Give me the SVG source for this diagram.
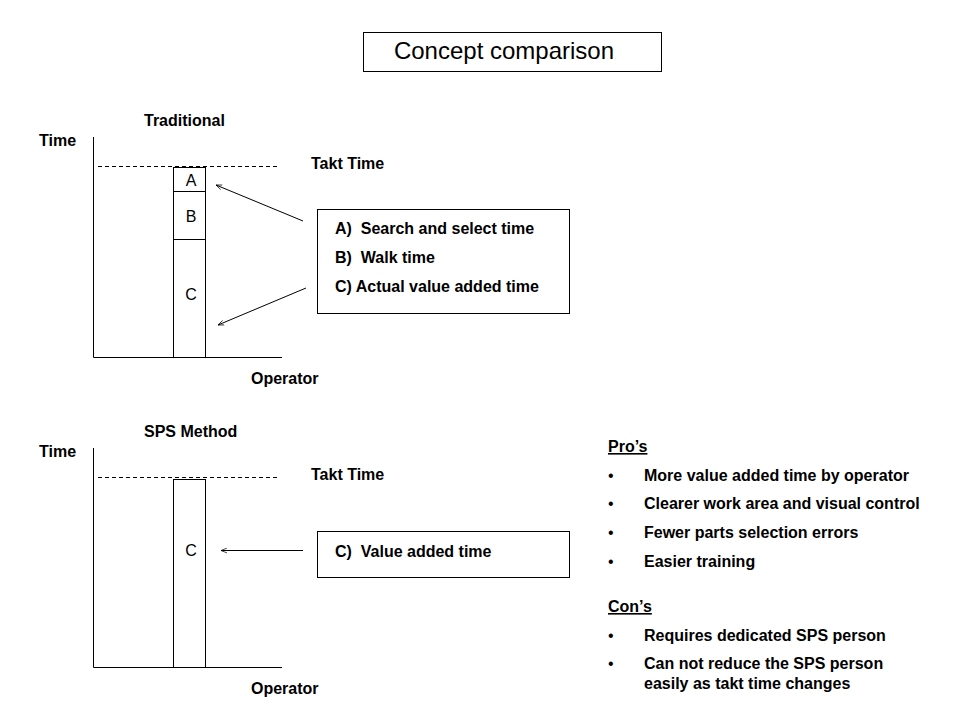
<svg xmlns="http://www.w3.org/2000/svg" width="960" height="720" viewBox="0 0 960 720">
<style>
text{font-family:"Liberation Sans",Arial,sans-serif;fill:#000}
.b{font-size:16px;font-weight:bold}
.r{font-size:16px}
.ln{stroke:#000;stroke-width:1;fill:none}
.dash{stroke:#000;stroke-width:1;stroke-dasharray:4,3;fill:none}
.box{stroke:#000;stroke-width:1;fill:#fff}
.u{text-decoration:underline}
</style>
<defs>
<marker id="ah" viewBox="0 0 10 10" refX="10" refY="5" markerWidth="6" markerHeight="6" orient="auto" markerUnits="userSpaceOnUse">
<path d="M0,1 L10,5 L0,9" fill="none" stroke="#000" stroke-width="1.2"/>
</marker>
</defs>
<rect width="960" height="720" fill="#fff"/>

<g id="title">
<rect class="box" x="363.5" y="32.5" width="298" height="39"/>
<text x="504" y="59" text-anchor="middle" style="font-size:24px">Concept comparison</text>
</g>

<g id="traditional-chart">
<text class="b" x="144" y="126">Traditional</text>
<text class="b" x="39" y="146">Time</text>
<text class="b" x="311" y="169">Takt Time</text>
<text class="b" x="251" y="384">Operator</text>
<polyline class="ln" points="93.5,137 93.5,357.5 282,357.5"/>
<line class="dash" x1="98" y1="166.5" x2="277" y2="166.5"/>
<rect class="ln" x="173.5" y="167.5" width="32" height="190"/>
<line class="ln" x1="173.5" y1="191.5" x2="205.5" y2="191.5"/>
<line class="ln" x1="173.5" y1="239.5" x2="205.5" y2="239.5"/>
<text class="r" x="191" y="186" text-anchor="middle">A</text>
<text class="r" x="191" y="222" text-anchor="middle">B</text>
<text class="r" x="191" y="300" text-anchor="middle">C</text>
</g>

<g id="traditional-legend">
<rect class="box" x="317.5" y="209.5" width="252" height="104"/>
<text class="b" x="335" y="234" xml:space="preserve">A)  Search and select time</text>
<text class="b" x="335" y="263" xml:space="preserve">B)  Walk time</text>
<text class="b" x="335" y="292">C) Actual value added time</text>
</g>

<g id="sps-chart">
<text class="b" x="144" y="437">SPS Method</text>
<text class="b" x="39" y="457">Time</text>
<text class="b" x="311" y="480">Takt Time</text>
<text class="b" x="251" y="694">Operator</text>
<polyline class="ln" points="93.5,448 93.5,667.5 282,667.5"/>
<line class="dash" x1="98" y1="477.5" x2="277" y2="477.5"/>
<rect class="ln" x="173.5" y="479.5" width="32" height="188"/>
<text class="r" x="191" y="556" text-anchor="middle">C</text>
</g>

<g id="sps-legend">
<rect class="box" x="317.5" y="531.5" width="252" height="46"/>
<text class="b" x="335" y="557" xml:space="preserve">C)  Value added time</text>
</g>

<g id="connectors">
<line class="ln" x1="303" y1="221" x2="216" y2="185" marker-end="url(#ah)"/>
<line class="ln" x1="306" y1="288" x2="218" y2="325" marker-end="url(#ah)"/>
<line class="ln" x1="303" y1="550.5" x2="221" y2="550.5" marker-end="url(#ah)"/>
</g>

<g id="pros-cons">
<text class="b u" x="608" y="452">Pro’s</text>
<text class="r" x="608" y="481">•</text><text class="b" x="644" y="481">More value added time by operator</text>
<text class="r" x="608" y="509">•</text><text class="b" x="644" y="509">Clearer work area and visual control</text>
<text class="r" x="608" y="538">•</text><text class="b" x="644" y="538">Fewer parts selection errors</text>
<text class="r" x="608" y="567">•</text><text class="b" x="644" y="567">Easier training</text>
<text class="b u" x="608" y="612">Con’s</text>
<text class="r" x="608" y="641">•</text><text class="b" x="644" y="641">Requires dedicated SPS person</text>
<text class="r" x="608" y="669">•</text><text class="b" x="644" y="669">Can not reduce the SPS person</text>
<text class="b" x="644" y="689">easily as takt time changes</text>
</g>
</svg>
